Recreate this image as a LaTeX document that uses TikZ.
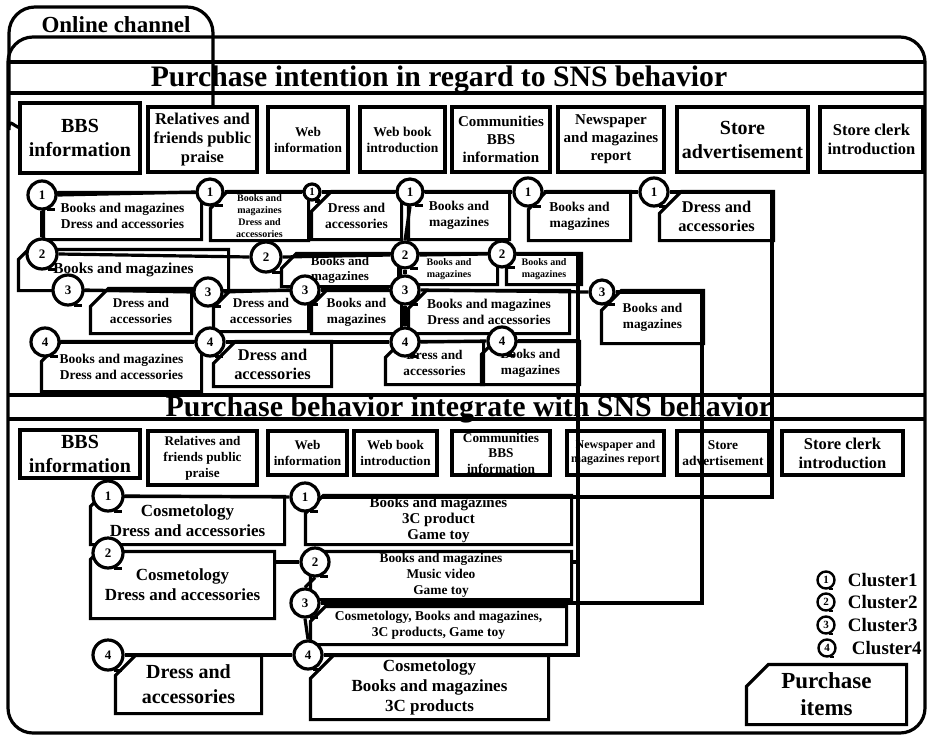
\documentclass[tikz,border=0pt]{standalone}
\usepackage{fontspec}
\setmainfont{Liberation Serif}
\newcommand\fz[2]{\fontsize{#1}{#2}\selectfont\bfseries}
\tikzset{
  srcbox/.style={draw, rectangle, align=center, inner sep=0pt},
  itembox/.style={rectangle, align=center, inner sep=0pt},
  clucirc/.style={draw, circle, fill=white, inner sep=0pt, minimum size=28, font=\fz{13}{15}},
  legcirc/.style={draw, circle, fill=white, inner sep=0pt, minimum size=17, line width=2.4pt, font=\fz{11}{12}},
}

\begin{document}
\begin{tikzpicture}[x=1pt, y=-1pt, line width=3.2pt]
        \useasboundingbox (0,0) rectangle (927,737);

        \draw[rounded corners=25] (8,37) rectangle (925,733);
        \draw (213,107) [rounded corners=26]-- (213,7) -- (9,7) -- (9,104) [sharp corners] .. controls (9,118) and (12,125) .. (20,128);
        \node[font=\fz{23}{26}, anchor=base] (onl) at (116,32) {Online channel};

        \draw (8,62) -- (925,62);
        \draw (8,93) -- (925,93);
        \draw (8,395) -- (925,395);
        \draw (8,419) -- (925,419);
        \node[font=\fz{29.7}{32}, anchor=base] (ttl1) at (439,86) {Purchase intention in regard to SNS behavior};

        \node[srcbox, minimum width=120, minimum height=70, font=\fz{20}{24}] (s1) at (80,138) {BBS\\information};
        \node[srcbox, minimum width=109, minimum height=65, font=\fz{16.5}{19}] (s2) at (202.5,139.5) {Relatives and\\friends public\\praise};
        \node[srcbox, minimum width=80, minimum height=65, font=\fz{13.3}{16}] (s3) at (308,139.5) {Web\\information};
        \node[srcbox, minimum width=85, minimum height=65, font=\fz{13.5}{16}] (s4) at (402.5,139.5) {Web book\\introduction};
        \node[srcbox, minimum width=98, minimum height=65, font=\fz{15}{18}] (s5) at (501,139.5) {Communities\\BBS\\information};
        \node[srcbox, minimum width=106, minimum height=65, font=\fz{15}{18}] (s6) at (611,139.5) {Newspaper\\and magazines\\report};
        \node[srcbox, minimum width=131, minimum height=65, font=\fz{20}{24}] (s7) at (742.5,139.5) {Store\\advertisement};
        \node[srcbox, minimum width=103, minimum height=65, font=\fz{16.5}{19}] (s8) at (871.5,139.5) {Store clerk\\introduction};

        \node[itembox, minimum width=155, minimum height=44, font=\fz{13.5}{16}] (it1a) at (122.5,216) {Books and magazines\\Dress and accessories};
        \node[itembox, minimum width=95, minimum height=46, font=\fz{10}{12}] (it1b) at (259.5,216) {Books and\\magazines\\Dress and\\accessories};
        \node[itembox, minimum width=87, minimum height=45, font=\fz{13.5}{16}] (it1c) at (356.5,215.5) {Dress and\\accessories};
        \node[itembox, minimum width=98, minimum height=45, font=\fz{13.5}{16}] (it1d) at (459,215.5) {Books and\\magazines};
        \node[itembox, minimum width=99, minimum height=46, font=\fz{13.5}{16}] (it1e) at (579.5,216) {Books and\\magazines};
        \node[itembox, minimum width=111, minimum height=46, font=\fz{16.4}{19}] (it1f) at (716.5,216) {Dress and\\accessories};

        \node[itembox, minimum width=207, minimum height=38, font=\fz{15.3}{18}] (it2a) at (123.5,270) {Books and magazines};
        \node[itembox, minimum width=114, minimum height=30, font=\fz{13}{15}] (it2b) at (340,270) {Books and\\magazines};
        \node[itembox, minimum width=94, minimum height=28, font=\fz{10}{12}] (it2c) at (449,269) {Books and\\magazines};
        \node[itembox, minimum width=72, minimum height=28, font=\fz{10}{12}] (it2d) at (544,269) {Books and\\magazines};

        \node[itembox, minimum width=98, minimum height=42, font=\fz{13.3}{16}] (it3a) at (141,311) {Dress and\\accessories};
        \node[itembox, minimum width=92, minimum height=38, font=\fz{13.3}{16}] (it3b) at (261,311) {Dress and\\accessories};
        \node[itembox, minimum width=87, minimum height=40, font=\fz{13.3}{16}] (it3c) at (356.5,312) {Books and\\magazines};
        \node[itembox, minimum width=158, minimum height=40, font=\fz{13.5}{16}] (it3d) at (489,312) {Books and magazines\\Dress and accessories};
        \node[itembox, minimum width=99, minimum height=50, font=\fz{13.3}{16}] (it3e) at (652.5,317) {Books and\\magazines};

        \node[itembox, minimum width=157, minimum height=47, font=\fz{13.5}{16}] (it4a) at (121.5,366.5) {Books and magazines\\Dress and accessories};
        \node[itembox, minimum width=115, minimum height=42, font=\fz{16.4}{19}] (it4b) at (272.5,364) {Dress and\\accessories};
        \node[itembox, minimum width=95, minimum height=40, font=\fz{13.3}{16}] (it4c) at (434.5,363) {Dress and\\accessories};
        \node[itembox, minimum width=95, minimum height=40, font=\fz{13.3}{16}] (it4d) at (530.5,363) {Books and\\magazines};

        \node[font=\fz{29.9}{32}, anchor=base] (ttl2) at (469,416) {Purchase behavior integrate with SNS behavior};

        \node[srcbox, minimum width=120, minimum height=48, font=\fz{20}{24}] (t1) at (80,454) {BBS\\information};
        \node[srcbox, minimum width=109, minimum height=54, font=\fz{13.2}{16}] (t2) at (202.5,458) {Relatives and\\friends public\\praise};
        \node[srcbox, minimum width=79, minimum height=44, font=\fz{13.2}{16}] (t3) at (307.5,453) {Web\\information};
        \node[srcbox, minimum width=83, minimum height=44, font=\fz{13.2}{16}] (t4) at (395.5,453) {Web book\\introduction};
        \node[srcbox, minimum width=98, minimum height=44, font=\fz{13.3}{15.5}] (t5) at (501,453) {Communities\\BBS\\information};
        \node[srcbox, minimum width=97, minimum height=44, font=\fz{12}{14}] (t6) at (615.5,453) {Newspaper and\\magazines report};
        \node[srcbox, minimum width=92, minimum height=44, font=\fz{13.4}{16}] (t7) at (723,453) {Store\\advertisement};
        \node[srcbox, minimum width=121, minimum height=44, font=\fz{16.5}{19}] (t8) at (842.5,453) {Store clerk\\introduction};

        \node[itembox, minimum width=191, minimum height=45, font=\fz{17}{20}] (ib1a) at (187.5,520.5) {Cosmetology\\Dress and accessories};
        \node[itembox, minimum width=263, minimum height=46, font=\fz{15}{16}] (ib1b) at (438.5,520) {Books and magazines\\3C product\\Game toy};
        \node[itembox, minimum width=181, minimum height=64, font=\fz{17}{20}] (ib2a) at (182.5,585) {Cosmetology\\Dress and accessories};
        \node[itembox, minimum width=258, minimum height=45, font=\fz{13.4}{16}] (ib2b) at (441,575.5) {Books and magazines\\Music video\\Game toy};
        \node[itembox, minimum width=253, minimum height=35, font=\fz{13.5}{16}] (ib3) at (438.5,625.5) {Cosmetology, Books and magazines,\\3C products, Game toy};
        \node[itembox, minimum width=143, minimum height=55, font=\fz{20}{25}] (ib4a) at (188.5,684.5) {Dress and\\accessories};
        \node[itembox, minimum width=235, minimum height=61, font=\fz{17}{20}] (ib4b) at (429.5,687.5) {Cosmetology\\Books and magazines\\3C products};

        \node[itembox, minimum width=157, minimum height=57, font=\fz{23}{27}] (pitems) at (826.5,694.5) {Purchase\\items};

        \foreach \b/\k in {it1a/15, it1b/17, it1c/20, it1d/15, it1e/18, it1f/22,
                          it2a/10, it2b/15, it2c/10, it2d/10,
                          it3a/18, it3b/17, it3c/15, it3d/18, it3e/20,
                          it4a/20, it4b/22, it4c/16, it4d/13,
                          ib1a/10, ib1b/18, ib2a/8, ib2b/10, ib3/15, ib4a/20, ib4b/23, pitems/22}
          \draw ([yshift=-\k pt]\b.north west) -- ([xshift=\k pt]\b.north west) -- (\b.north east) -- (\b.south east) -- (\b.south west) -- cycle;

        \node[clucirc] (ci1a) at (42,195) {1};
        \node[clucirc, minimum size=26] (ci1b) at (210,192) {1};
        \node[clucirc, minimum size=16, font=\fz{11}{12}] (ci1c) at (312,192) {1};
        \node[clucirc, minimum size=26] (ci1d) at (410,192) {1};
        \node[clucirc] (ci1e) at (528,192) {1};
        \node[clucirc] (ci1f) at (654,192) {1};
        \node[clucirc, minimum size=30] (ci2a) at (42,254) {2};
        \node[clucirc, minimum size=30] (ci2b) at (266,257) {2};
        \node[clucirc, minimum size=26] (ci2c) at (405,255) {2};
        \node[clucirc, minimum size=26] (ci2d) at (502,254) {2};
        \node[clucirc, minimum size=30] (ci3a) at (68,290) {3};
        \node[clucirc] (ci3b) at (208,292) {3};
        \node[clucirc] (ci3c) at (305,290) {3};
        \node[clucirc] (ci3d) at (405,290) {3};
        \node[clucirc, minimum size=24] (ci3e) at (602,292) {3};
        \node[clucirc] (ci4a) at (45,342) {4};
        \node[clucirc] (ci4b) at (210,342) {4};
        \node[clucirc] (ci4c) at (405,342) {4};
        \node[clucirc] (ci4d) at (502,341) {4};

        \node[clucirc, minimum size=30] (cb1a) at (108,496) {1};
        \node[clucirc] (cb1b) at (305,497) {1};
        \node[clucirc, minimum size=30] (cb2a) at (108,553) {2};
        \node[clucirc] (cb2b) at (315,562) {2};
        \node[clucirc] (cb3) at (305,603) {3};
        \node[clucirc, minimum size=30] (cb4a) at (108,655) {4};
        \node[clucirc] (cb4b) at (308,655) {4};

        \coordinate (r1top) at (772,192);
        \coordinate (r1bot) at (772,497);
        \coordinate (r2top) at (578,254);
        \coordinate (r2mid) at (578,562);
        \coordinate (r4join) at (578,341);
        \coordinate (r4bot) at (578,655);
        \coordinate (r3top) at (702,292);
        \coordinate (r3bot) at (702,603);

        \draw (ci1a.east) -- (ci1b.west);
        \draw (ci1b.east) -- (ci1c.west);
        \draw (ci1c.east) -- (ci1d.west);
        \draw (ci1d.east) -- (ci1e.west);
        \draw (ci1e.east) -- (ci1f.west);
        \draw (ci1f.east) -- (r1top) -- (r1bot) -- (cb1b.east);
        \draw (cb1b.west) -- (cb1a.east);
        \draw (ci1a.south) -- (ci2a.north);
        \draw (ci1d.south) -- (ci2c.north);
        \draw (ci2c.south) -- (ci3d.north);
        \draw (ci3d.south) -- (ci4c.north);

        \draw (ci2a.east) -- (ci2b.west);
        \draw (ci2b.east) -- (ci2c.west);
        \draw (ci2c.east) -- (ci2d.west);
        \draw (ci2d.east) -- (r2top) -- (r4bot) -- (cb4b.east);
        \draw (r2mid) -- (r2mid -| ib2b.east);
        \draw (cb2b.west -| ib2a.east) -- (cb2b.west);

        \draw (ci3a.east) -- (ci3b.west);
        \draw (ci3b.east) -- (ci3c.west);
        \draw (ci3c.east) -- (ci3d.west);
        \draw (ci3d.east) -- (ci3e.west);
        \draw (ci3e.east) -- (r3top) -- (r3bot) -- (cb3.east);

        \draw (ci4a.east) -- (ci4b.west);
        \draw (ci4b.east) -- (ci4c.west);
        \draw (ci4c.east) -- (ci4d.west);
        \draw (ci4d.east) -- (r4join);
        \draw (cb4b.west) -- (cb4a.east);
        \draw (cb2b.south) -- (cb3.north);
        \draw (cb3.south) -- (cb4b.north);

        \foreach \c in {ci1a,ci1b,ci1d,ci1e,ci1f,ci2a,ci2b,ci2c,ci2d,ci3a,ci3b,ci3c,ci3d,ci3e,
                        ci4a,ci4b,ci4c,ci4d,cb1a,cb1b,cb2a,cb2b,cb3,cb4a,cb4b}
          \draw (\c.-70) -- ++(8,0);
        \draw (ci1c.-70) -- ++(5,0);

        \node[legcirc] (lg1) at (826,580) {1};
        \node[legcirc] (lg2) at (826,602) {2};
        \node[legcirc] (lg3) at (826,625) {3};
        \node[legcirc] (lg4) at (827,648) {4};
        \foreach \c in {lg1,lg2,lg3,lg4}
          \draw[line width=2.4pt] (\c.-70) -- ++(4,0);
        \node[anchor=west, font=\fz{19}{22}] at (843,580) {Cluster1};
        \node[anchor=west, font=\fz{19}{22}] at (843,602) {Cluster2};
        \node[anchor=west, font=\fz{19}{22}] at (843,625) {Cluster3};
        \node[anchor=west, font=\fz{19}{22}] at (847,648) {Cluster4};

    \end{tikzpicture}
\end{document}
